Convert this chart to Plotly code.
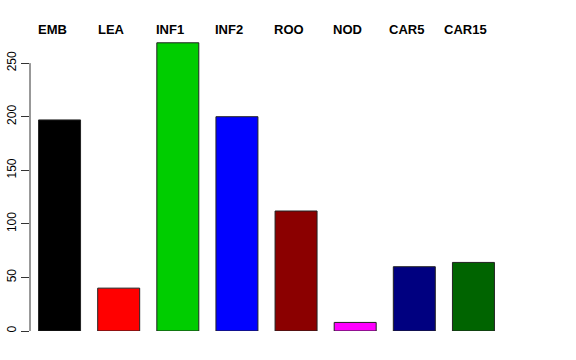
import plotly.graph_objects as go

categories = ["EMB", "LEA", "INF1", "INF2", "ROO", "NOD", "CAR5", "CAR15"]
values = [197, 40, 269, 200, 112, 8, 60, 64]
colors = ["#000000", "#FF0000", "#00CD00", "#0000FF", "#8B0000", "#FF00FF", "#000080", "#006400"]
y_ticks = [0, 50, 100, 150, 200, 250]

xpos = list(range(len(categories)))

fig = go.Figure()
fig.add_trace(go.Bar(
    x=xpos, y=values,
    marker=dict(color=colors, line=dict(color="#222222", width=1)),
    width=0.71,
    hoverinfo="skip",
))

for i, lab in zip(xpos, categories):
    fig.add_annotation(
        x=i, xref="x", y=1, yref="paper",
        text="<b>" + lab + "</b>", showarrow=False,
        xanchor="center", yanchor="middle", xshift=-7.5, yshift=1.5,
        font=dict(family="Liberation Sans, Arial, sans-serif", size=13, color="black"),
    )

# R-style axis line spanning only the tick range
fig.add_shape(type="line", xref="paper", yref="y", x0=0, x1=0,
              y0=min(y_ticks), y1=max(y_ticks),
              line=dict(color="#333333", width=1))

fig.update_layout(
    width=576, height=360,
    margin=dict(l=29.5, r=72.5, t=31, b=29, autoexpand=False),
    paper_bgcolor="white", plot_bgcolor="white",
    showlegend=False,
    bargap=0,
    font=dict(family="Liberation Sans, Arial, sans-serif", size=12, color="black"),
    xaxis=dict(range=[-0.5, 7.5], showgrid=False, zeroline=False, automargin=False,
               showline=False, showticklabels=False, ticks=""),
    yaxis=dict(range=[0, 280], showgrid=False, zeroline=False, showline=False,
               automargin=False,
               tickvals=y_ticks, ticktext=[str(v) for v in y_ticks],
               ticks="outside", ticklen=8, tickcolor="#333333", tickwidth=1,
               tickangle=-90, tickfont=dict(size=12)),
)

fig.write_html("out.html", config={"displayModeBar": False, "staticPlot": True},
               post_script="document.body.style.margin='0';")
